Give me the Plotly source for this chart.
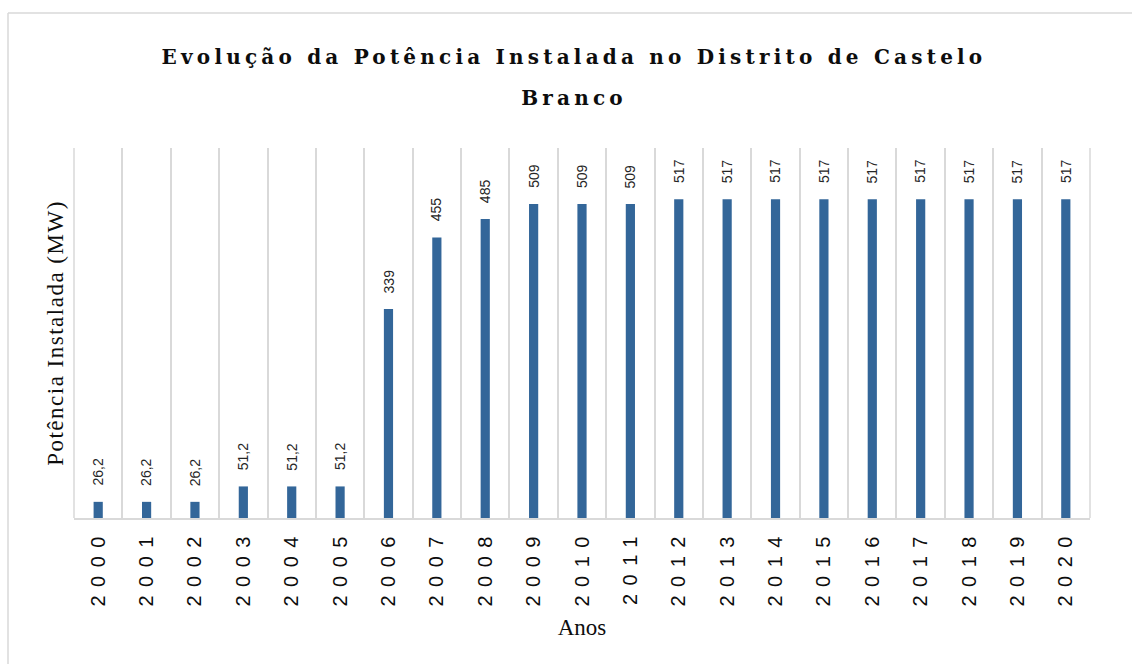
import plotly.graph_objects as go

# Installed wind capacity per year (MW)
anos = [str(a) for a in range(2000, 2021)]
potencia = [26.2, 26.2, 26.2, 51.2, 51.2, 51.2, 339, 455, 485, 509, 509, 509,
            517, 517, 517, 517, 517, 517, 517, 517, 517]

titulo = "Evolução da Potência Instalada no Distrito de Castelo<br>Branco"
titulo_y = "Potência Instalada (MW)"
titulo_x = "Anos"

W, H = 1132, 664
ML, MR, MT, MB = 74, 42, 148, 146
GRID = "#d9d9d9"
BAR = "#336699"


def rotulo(v):
    return f"{v:g}".replace(".", ",")


fig = go.Figure(
    go.Bar(
        x=anos,
        y=potencia,
        marker=dict(color=BAR, line=dict(width=0)),
        width=0.19,
        hoverinfo="x+y",
    )
)

# value labels above each bar, rotated (category index as x position)
for i, v in enumerate(potencia):
    fig.add_annotation(
        x=i, y=v, text=rotulo(v), showarrow=False, textangle=-90,
        yanchor="bottom", xanchor="center", yshift=14,
        font=dict(family="Liberation Sans", size=14, color="#262626"),
    )

# frame around the chart area
pw, ph = W - ML - MR, H - MT - MB
x0 = (8 - ML) / pw
y0 = (H - MB - 13) / ph
fig.add_shape(type="line", xref="paper", yref="paper",
              x0=x0, x1=(W + 5 - ML) / pw, y0=y0, y1=y0,
              line=dict(color=GRID, width=1.5))
fig.add_shape(type="line", xref="paper", yref="paper",
              x0=x0, x1=x0, y0=y0, y1=-(MB + 5) / ph,
              line=dict(color=GRID, width=1.5))
# outer edges of the category grid
for xe in (0, 1):
    fig.add_shape(type="line", xref="paper", yref="paper",
                  x0=xe, x1=xe, y0=0, y1=1, layer="below",
                  line=dict(color=GRID, width=1.5))

fig.update_layout(
    width=W, height=H,
    margin=dict(l=ML, r=MR, t=MT, b=MB, pad=0),
    paper_bgcolor="white", plot_bgcolor="white",
    showlegend=False,
    title=dict(
        text=titulo, x=574 / W, xanchor="center", xref="container",
        y=1 - 64 / H, yanchor="top", yref="container",
        font=dict(family="DejaVu Serif", size=20, color="#0d0d0d", weight="bold"),
    ),
    xaxis=dict(
        type="category", tickson="boundaries", range=[-0.5, 20.5],
        showgrid=True, gridcolor=GRID, gridwidth=1.5,
        showline=True, linecolor=GRID, linewidth=2,
        ticks="outside", ticklen=8, tickcolor="rgba(0,0,0,0)",
        tickangle=-90,
        tickfont=dict(family="Liberation Sans", size=20, color="#0d0d0d"),
        title=dict(text=titulo_x, standoff=47,
                   font=dict(family="Liberation Serif", size=23, color="#0d0d0d")),
        automargin=False, fixedrange=True,
    ),
    yaxis=dict(
        range=[0, 600], showgrid=False, zeroline=False, showline=False,
        showticklabels=False, ticks="",
        title=dict(text=titulo_y, standoff=2,
                   font=dict(family="Liberation Serif", size=23, color="#0d0d0d")),
        automargin=False, fixedrange=True,
    ),
)

# letter spacing for the title and year labels, wider gap between title lines
post = """
var s = document.createElement('style');
s.textContent = '.gtitle{letter-spacing:4.2px} .xtick text{letter-spacing:8.5px} .ytitle{letter-spacing:1.5px}';
document.head.appendChild(s);
var gd = document.getElementById('{plot_id}');
var ln = gd.querySelectorAll('.gtitle tspan.line');
if (ln.length > 1) { ln[1].setAttribute('dy', '2.05em'); }
"""

fig.write_html("out.html", post_script=post, config={"displayModeBar": False})
